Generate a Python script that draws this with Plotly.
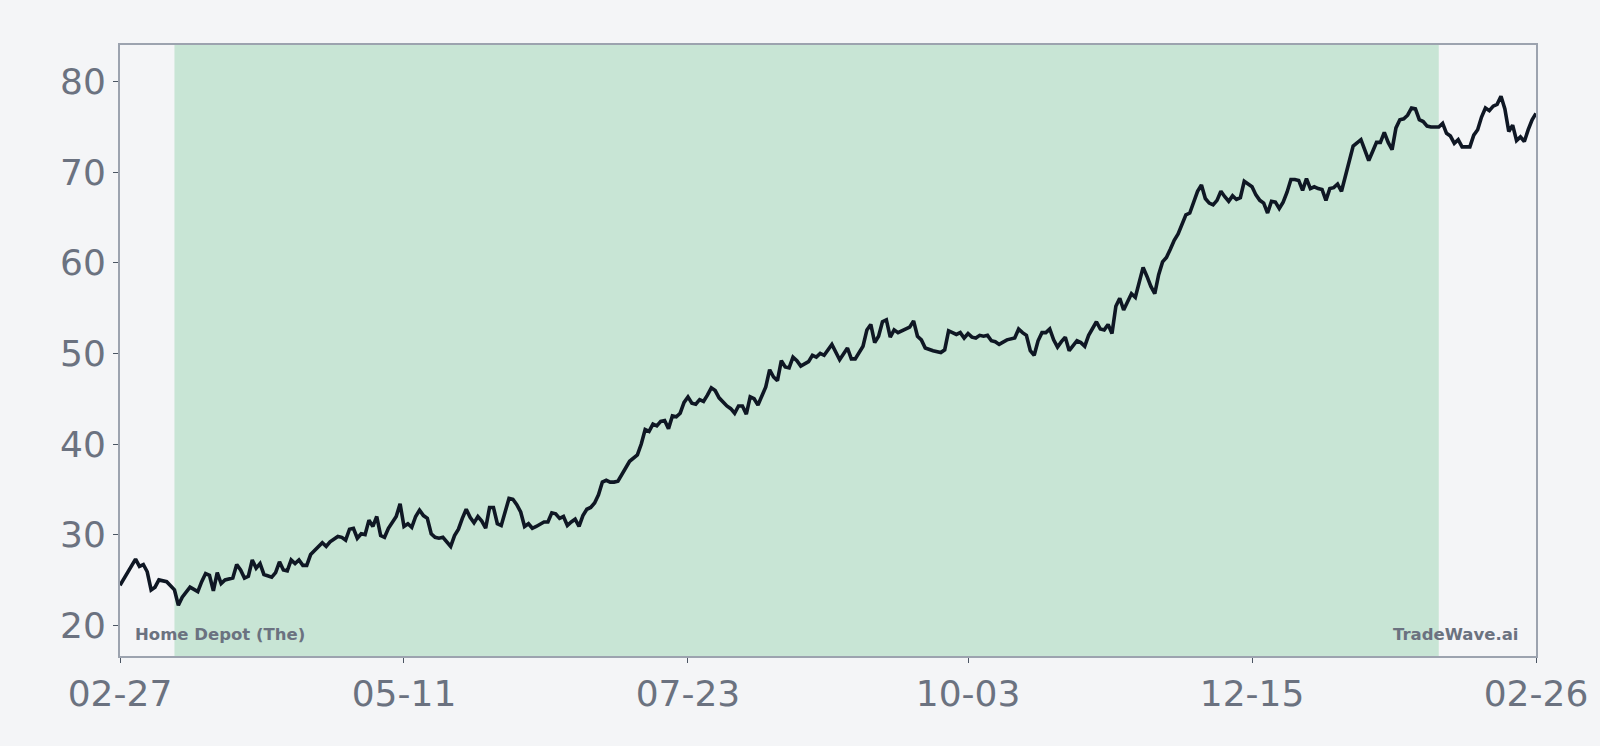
import pandas as pd
import plotly.graph_objects as go

# ---- data ----
start_date = "2023-02-27"
day_offsets = [0, 4, 5, 6, 7, 8, 9, 10, 12, 13, 14, 15, 16, 18, 19, 20, 21, 22, 23, 24, 25, 26, 27, 29, 30,
               31, 32, 33, 34, 35, 36, 37, 39, 40, 41, 42, 43, 44, 45, 46, 47, 48, 49, 50, 52, 53, 54, 56, 57,
               58, 59, 60, 61, 62, 63, 64, 65, 66, 67, 68, 69, 71, 72, 73, 74, 75, 76, 77, 78, 79, 80, 81, 82,
               83, 84, 85, 86, 87, 88, 89, 90, 91, 92, 93, 94, 95, 96, 97, 98, 99, 100, 101, 102, 103, 104,
               105, 106, 107, 108, 109, 110, 111, 112, 113, 114, 115, 116, 117, 118, 119, 120, 121, 122, 123,
               124, 125, 126, 127, 128, 129, 130, 131, 133, 134, 135, 136, 137, 138, 139, 140, 141, 142, 143,
               144, 145, 146, 147, 148, 149, 150, 151, 152, 153, 154, 156, 157, 158, 159, 160, 161, 162, 163,
               164, 165, 166, 167, 168, 169, 170, 171, 172, 173, 174, 175, 176, 177, 178, 179, 180, 181, 183,
               184, 185, 187, 188, 189, 191, 192, 193, 194, 195, 196, 197, 198, 199, 200, 201, 202, 203, 204,
               205, 206, 207, 209, 211, 212, 213, 214, 215, 216, 217, 218, 219, 220, 221, 222, 223, 224, 225,
               226, 227, 228, 230, 231, 232, 233, 234, 235, 236, 237, 238, 239, 240, 241, 242, 243, 244, 245,
               246, 247, 248, 249, 251, 252, 253, 254, 255, 256, 257, 258, 259, 260, 261, 262, 263, 264, 265,
               266, 267, 268, 269, 270, 271, 272, 273, 274, 275, 276, 277, 278, 279, 280, 281, 282, 283, 284,
               285, 286, 287, 288, 289, 290, 291, 292, 293, 294, 295, 296, 297, 298, 299, 300, 301, 302, 303,
               304, 305, 306, 307, 308, 309, 310, 311, 312, 313, 314, 315, 316, 317, 319, 320, 321, 322, 323,
               324, 325, 326, 327, 328, 329, 330, 331, 332, 333, 334, 335, 336, 337, 339, 340, 341, 342, 343,
               344, 345, 347, 348, 349, 350, 351, 352, 353, 354, 355, 356, 357, 358, 359, 360, 361, 362, 363,
               364]
prices = [24.4, 27.3, 26.5, 26.7, 25.9, 23.9, 24.2, 25.0, 24.8, 24.4, 23.9, 22.2, 23.1, 24.2, 23.9, 23.7,
          24.8, 25.7, 25.5, 23.8, 25.8, 24.6, 25.0, 25.2, 26.7, 26.1, 25.2, 25.4, 27.2, 26.3, 26.8, 25.6,
          25.3, 25.8, 27.0, 26.1, 26.0, 27.2, 26.8, 27.2, 26.6, 26.6, 27.8, 28.2, 29.1, 28.7, 29.2, 29.8,
          29.7, 29.4, 30.6, 30.7, 29.6, 30.1, 30.0, 31.6, 30.9, 32.0, 29.9, 29.7, 30.7, 32.0, 33.4, 30.9,
          31.2, 30.8, 32.0, 32.7, 32.1, 31.8, 30.1, 29.7, 29.6, 29.7, 29.2, 28.7, 29.9, 30.6, 31.8, 32.8,
          31.9, 31.3, 32.0, 31.5, 30.7, 33.0, 33.0, 31.2, 31.0, 32.7, 34.0, 33.9, 33.3, 32.5, 30.9, 31.2,
          30.7, 30.9, 31.2, 31.4, 31.4, 32.4, 32.3, 31.8, 32.0, 31.0, 31.4, 31.7, 30.9, 32.1, 32.8, 33.0,
          33.5, 34.4, 35.8, 36.0, 35.8, 35.8, 35.9, 36.7, 37.5, 38.1, 38.8, 40.0, 41.6, 41.4, 42.2, 42.0,
          42.5, 42.6, 41.7, 43.1, 43.0, 43.4, 44.6, 45.2, 44.5, 44.4, 44.9, 44.7, 45.4, 46.2, 45.9, 45.1,
          44.2, 43.9, 43.4, 44.2, 44.2, 43.3, 45.2, 45.0, 44.3, 45.2, 46.3, 48.2, 47.4, 47.0, 49.2, 48.5,
          48.4, 49.6, 49.2, 48.6, 48.9, 49.1, 49.8, 49.6, 50.0, 49.8, 51.0, 50.1, 49.3, 50.6, 49.4, 49.4,
          50.8, 52.6, 53.2, 51.2, 51.9, 53.5, 53.7, 51.8, 52.6, 52.3, 52.5, 52.7, 52.9, 53.6, 51.9, 51.5,
          50.6, 50.3, 50.1, 50.4, 52.5, 52.3, 52.1, 52.3, 51.7, 52.2, 51.8, 51.7, 52.0, 51.9, 52.0, 51.4,
          51.3, 51.0, 51.3, 51.5, 51.7, 52.7, 52.3, 52.0, 50.3, 49.8, 51.4, 52.3, 52.3, 52.7, 51.5, 50.7,
          51.3, 51.8, 50.3, 50.9, 51.4, 51.2, 50.8, 52.0, 53.5, 52.7, 52.6, 53.2, 52.2, 55.2, 56.1, 54.8,
          55.6, 56.6, 56.2, 57.9, 59.5, 58.5, 57.4, 56.6, 58.7, 60.1, 60.6, 61.5, 62.5, 63.2, 64.2, 65.3,
          65.5, 66.6, 67.9, 68.6, 67.1, 66.6, 66.4, 66.9, 67.9, 67.3, 66.8, 67.4, 67.0, 67.2, 69.0, 68.7,
          68.4, 67.5, 66.9, 66.6, 65.5, 66.8, 66.7, 66.0, 66.7, 67.8, 69.2, 69.2, 69.1, 68.0, 69.3, 68.2,
          68.4, 68.2, 68.1, 66.9, 68.2, 68.3, 68.7, 67.9, 69.5, 71.2, 72.9, 73.6, 72.5, 71.3, 72.3, 73.3,
          73.3, 74.4, 73.3, 72.5, 74.9, 75.8, 75.9, 76.3, 77.1, 77.0, 75.8, 75.6, 75.1, 75.0, 75.0, 75.4,
          74.3, 74.0, 73.2, 73.6, 72.8, 72.8, 74.1, 74.7, 76.1, 77.1, 76.8, 77.3, 77.5, 78.4, 77.0, 74.5,
          75.2, 73.5, 73.9, 73.4, 74.7, 75.8, 76.5]

tick_dates = ["2023-02-27", "2023-05-11", "2023-07-23", "2023-10-03", "2023-12-15", "2024-02-26"]
tick_labels = ["02-27", "05-11", "07-23", "10-03", "12-15", "02-26"]
y_ticks = [20, 30, 40, 50, 60, 70, 80]
shade_start = "2023-03-13"
shade_end = "2024-02-01"
company = "Home Depot (The)"
brand = "TradeWave.ai"

dates = pd.Timestamp(start_date) + pd.to_timedelta(day_offsets, unit="D")

BG = "#f4f5f7"
GRAY_TXT = "#6b7280"
FRAME = "#9ca3af"

fig = go.Figure()
fig.add_trace(go.Scatter(x=dates, y=prices, mode="lines",
                         line=dict(color="#0f1724", width=3.6), hoverinfo="skip"))

fig.add_shape(type="rect", xref="x", yref="paper", x0=shade_start, x1=shade_end, y0=0, y1=1,
              fillcolor="#c8e5d5", line=dict(width=0), layer="below")

fig.add_annotation(text=f"<b>{company}</b>", xref="paper", yref="paper", x=0.0095, y=0.036,
                   xanchor="left", yanchor="middle", showarrow=False,
                   font=dict(family="DejaVu Sans", size=16.5, color=GRAY_TXT))
fig.add_annotation(text=f"<b>{brand}</b>", xref="paper", yref="paper", x=0.989, y=0.036,
                   xanchor="right", yanchor="middle", showarrow=False,
                   font=dict(family="DejaVu Sans", size=16.5, color=GRAY_TXT))

fig.update_layout(
    width=1600, height=746,
    margin=dict(l=120, r=64, t=45, b=90),
    paper_bgcolor=BG, plot_bgcolor=BG,
    showlegend=False,
    font=dict(family="DejaVu Sans", size=36, color=GRAY_TXT),
)
fig.update_xaxes(range=[tick_dates[0], tick_dates[-1]], tickvals=tick_dates, ticktext=tick_labels,
                 showgrid=False, zeroline=False, showline=True, mirror=True,
                 linecolor=FRAME, linewidth=2, ticks="outside", ticklen=5, tickwidth=1,
                 tickcolor="#4b5563", tickfont=dict(size=36, color=GRAY_TXT))
fig.update_yaxes(range=[16.6, 84.05], tickvals=y_ticks,
                 showgrid=False, zeroline=False, showline=True, mirror=True,
                 linecolor=FRAME, linewidth=2, ticks="outside", ticklen=5, tickwidth=1,
                 tickcolor="#4b5563", tickfont=dict(size=36, color=GRAY_TXT))

fig.write_html("out.html", config={"displayModeBar": False},
               post_script="document.body.style.margin='0';document.body.style.background='%s';" % BG)
